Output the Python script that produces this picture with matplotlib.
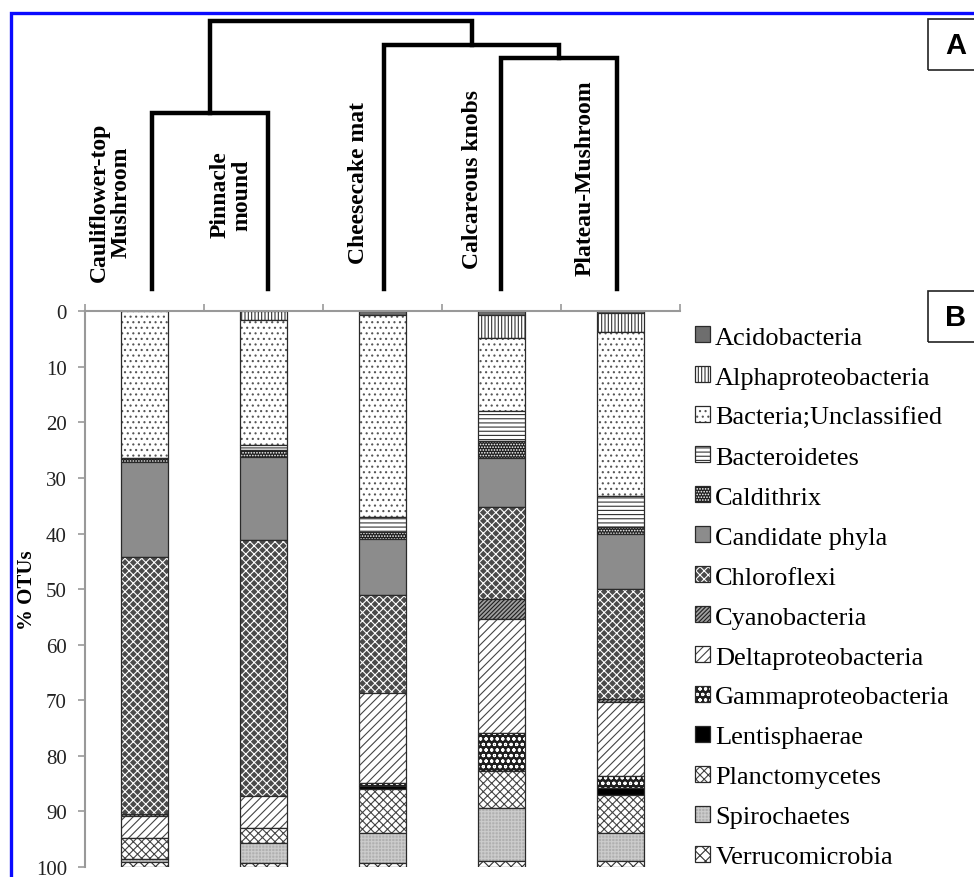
import matplotlib
matplotlib.use("Agg")
import matplotlib.pyplot as plt
from matplotlib.patches import Patch, Rectangle
import numpy as np

# sites, left to right (same order as the dendrogram leaves)
sites = ["Cauliflower-top\nMushroom", "Pinnacle\nmound", "Cheesecake mat",
         "Calcareous knobs", "Plateau-Mushroom"]

phyla = ["Acidobacteria", "Alphaproteobacteria", "Bacteria;Unclassified",
         "Bacteroidetes", "Caldithrix", "Candidate phyla", "Chloroflexi",
         "Cyanobacteria", "Deltaproteobacteria", "Gammaproteobacteria",
         "Lentisphaerae", "Planctomycetes", "Spirochaetes", "Verrucomicrobia"]

# % OTUs, one value per site
acidobacteria = [0.0, 0.0, 0.6, 0.6, 0.3]
alphaproteobacteria = [0.0, 1.5, 0.0, 4.2, 3.5]
bacteria_unclassified = [26.5, 22.6, 36.5, 13.2, 29.5]
bacteroidetes = [0.0, 0.8, 2.6, 5.4, 5.6]
caldithrix = [0.7, 1.3, 1.2, 3.1, 1.1]
candidate_phyla = [17.1, 15.0, 10.1, 8.8, 10.0]
chloroflexi = [46.2, 46.1, 17.7, 16.5, 19.8]
cyanobacteria = [0.3, 0.0, 0.0, 3.5, 0.6]
deltaproteobacteria = [3.9, 5.7, 16.2, 20.6, 13.2]
gammaproteobacteria = [0.0, 0.0, 0.5, 6.8, 2.1]
lentisphaerae = [0.0, 0.0, 0.5, 0.0, 1.4]
planctomycetes = [3.8, 2.7, 8.0, 6.6, 6.7]
spirochaetes = [0.6, 3.6, 5.3, 9.6, 5.2]
verrucomicrobia = [0.9, 0.7, 0.8, 1.1, 1.0]

values = [acidobacteria, alphaproteobacteria, bacteria_unclassified,
          bacteroidetes, caldithrix, candidate_phyla, chloroflexi,
          cyanobacteria, deltaproteobacteria, gammaproteobacteria,
          lentisphaerae, planctomycetes, spirochaetes, verrucomicrobia]

# dendrogram merges: (node a, node b, height); new nodes numbered from 5
merges = [(0, 1, 176), (3, 4, 231), (2, 6, 244), (5, 7, 268)]

# (face colour, hatch, hatch colour) per phylum
styles = [
    ("#6e6e6e", None, "#6e6e6e"),
    ("white", "|||||", "#333333"),
    ("white", "...", "#555555"),
    ("white", "----", "#333333"),
    ("#1e1e1e", "......", "white"),
    ("#8c8c8c", None, "#8c8c8c"),
    ("#4a4a4a", "xxxx", "white"),
    ("#a0a0a0", "////////", "#1e1e1e"),
    ("white", "////", "#444444"),
    ("#1e1e1e", "ooo", "white"),
    ("black", None, "black"),
    ("white", "xxxx", "#444444"),
    ("#b0b0b0", "+++++", "#cccccc"),
    ("white", "xxx", "#333333"),
]

plt.rcParams["font.family"] = ["Liberation Serif", "DejaVu Serif"]
plt.rcParams["hatch.linewidth"] = 0.8

fig = plt.figure(figsize=(9.74, 8.78), dpi=100)

# ---- B: stacked bars
ax = fig.add_axes([0.0873, 0.0114, 0.611, 0.633])
x = np.arange(len(sites))
bottom = np.zeros(len(sites))
handles = []
for vals, (fc, hatch, hc) in zip(values, styles):
    vals = np.array(vals)
    keep = vals > 0
    ax.bar(x[keep], vals[keep], bottom=bottom[keep], width=0.4, color=fc,
           hatch=hatch, edgecolor=hc, linewidth=0)
    ax.bar(x[keep], vals[keep], bottom=bottom[keep], width=0.4, fill=False,
           edgecolor="#2a2a2a", linewidth=0.9)
    bottom += vals
    handles.append((Patch(facecolor=fc, hatch=hatch, edgecolor=hc, linewidth=0),
                    Patch(fill=False, edgecolor="#2a2a2a", linewidth=0.9)))

ax.set_xlim(-0.5, len(sites) - 0.5)
ax.set_ylim(100, 0)
ax.set_yticks(np.arange(0, 101, 10))
ax.set_xticks(np.arange(-0.5, len(sites), 1.0))
ax.xaxis.tick_top()
ax.tick_params(axis="x", labeltop=False, length=5, color="#999999", width=1.2)
ax.tick_params(axis="y", length=5, color="#999999", width=1.2,
               labelsize=15, labelcolor="#222222", pad=8)
for side in ("bottom", "right"):
    ax.spines[side].set_visible(False)
for side in ("left", "top"):
    ax.spines[side].set_color("#999999")
    ax.spines[side].set_linewidth(1.5)
ax.set_ylabel("% OTUs", fontsize=15, fontweight="bold")
ax.yaxis.set_label_coords(-0.080, 0.5)

fig.legend(handles, phyla, loc="upper left", bbox_to_anchor=(0.714, 0.627),
           frameon=False, fontsize=19, handlelength=0.55, handleheight=0.55,
           handletextpad=0.2, labelspacing=0.67, borderpad=0, borderaxespad=0)

# ---- A: dendrogram
axd = fig.add_axes([0.0965, 0.6697, 0.5965, 0.3189])
axd.set_xlim(-0.5, len(sites) - 0.5)
axd.set_ylim(0, 280)
axd.axis("off")
pos = {i: float(i) for i in range(len(sites))}
hgt = {i: 0.0 for i in range(len(sites))}
for k, (a, b, h) in enumerate(merges):
    axd.plot([pos[a], pos[a], pos[b], pos[b]], [hgt[a], h, h, hgt[b]],
             color="black", lw=3.2, solid_joinstyle="miter", clip_on=False)
    pos[len(sites) + k] = (pos[a] + pos[b]) / 2
    hgt[len(sites) + k] = h

label_dx = [-0.36, -0.32, -0.22, -0.24, -0.27]
label_y = [88, 95, 107, 111, 112]
for i, name in enumerate(sites):
    axd.text(i + label_dx[i], label_y[i], name, rotation=90, ha="center",
             va="center", multialignment="center", fontsize=17,
             fontweight="bold", linespacing=1.0)

# ---- panel letters and frame
for (yb, letter) in ((0.919, "A"), (0.609, "B")):
    fig.patches.append(Rectangle((0.953, yb), 0.08, 0.058, transform=fig.transFigure,
                                 fill=False, edgecolor="#222222", lw=1.2))
    fig.text(0.981, yb + 0.029, letter, ha="center", va="center", fontsize=21,
             fontweight="bold", family="Liberation Sans")
fig.patches.append(Rectangle((0.0115, -0.1), 1.2, 1.0845, transform=fig.transFigure,
                             fill=False, edgecolor="#0a0aff", lw=2.4))

fig.savefig("out.png", dpi=100)
